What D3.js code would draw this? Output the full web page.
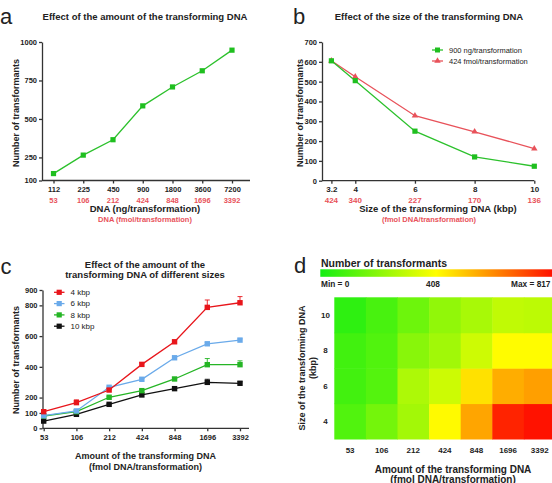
<!DOCTYPE html>
<html><head><meta charset="utf-8">
<script src="https://cdn.jsdelivr.net/npm/d3@7/dist/d3.min.js"></script>
<style>
html,body{margin:0;padding:0;background:#fff;overflow:hidden}
text{font-family:"Liberation Sans",Arial,sans-serif}
</style></head><body>
<svg id="c" width="552" height="483"></svg>
<script>
// ---------- data ----------
const ngAmounts = ["112","225","450","900","1800","3600","7200"];
const fmolAmounts = ["53","106","212","424","848","1696","3392"];
const transformantsA = [145,265,365,585,708,813,947];
const yTicksA = [100,250,500,750,1000];

const sizesKbp = [3.2,4,6,8,10];
const fmolBySize = ["424","340","227","170","136"];
const series900ng = [605,505,250,120,73];
const series424fmol = [605,525,328,247,162];
const legendB = ["900 ng/transformation","424 fmol/transformation"];

const sizeSeries = ["4 kbp","6 kbp","8 kbp","10 kbp"];
const kbp4 = [108,167,249,416,563,787,817];
const kbp6 = [82,113,267,319,459,550,574];
const kbp8 = [80,108,202,245,321,414,414];
const kbp10 = [47,91,156,217,258,299,293];
const err4 = [12,18,10,10,10,48,40];
const err6 = [6,6,6,6,8,8,8];
const err8 = [5,5,6,6,8,40,25];
const err10 = [5,5,5,5,6,20,10];
const yTicksC = [0,100,200,400,600,800,900];

const heatSizes = ["4","6","8","10"];
const heatMin = 0, heatMid = 408, heatMax = 817;

// ---------- helpers ----------
const svg = d3.select("#c");
const FS = '"Liberation Sans",Arial,sans-serif';
const AX = "#333";
function styleAxis(g, fs){
  g.selectAll("path,line").attr("stroke",AX).attr("stroke-width",1.3);
  g.selectAll("text").attr("font-weight","bold").attr("font-size",fs||7.5).attr("fill","#222").attr("font-family",FS);
}
function txt(x,y,s,o){
  o=o||{};
  return svg.append("text").attr("x",x).attr("y",y).text(s)
    .attr("font-size",o.fs||9).attr("font-weight",o.fw||"bold")
    .attr("fill",o.fill||"#222").attr("text-anchor",o.anchor||"middle")
    .attr("transform",o.rot?`rotate(-90,${x},${y})`:null);
}

// ---------- panel a ----------
{
  const x = d3.scalePoint().domain(ngAmounts).range([53.5,232]);
  const y = d3.scaleLinear().domain([100,1000]).range([180.5,42]);
  const g = svg.append("g");
  const ya = g.append("g").attr("transform","translate(42,0)").call(d3.axisLeft(y).tickValues(yTicksA).tickFormat(d3.format("d")).tickSize(3).tickSizeOuter(0).tickPadding(2));
  styleAxis(ya);
  const xa = g.append("g").attr("transform","translate(0,180.5)").call(d3.axisBottom(x).tickSize(3).tickPadding(3));
  xa.select(".domain").remove();
  styleAxis(xa);
  g.append("line").attr("x1",42).attr("x2",250).attr("y1",180.5).attr("y2",180.5).attr("stroke",AX).attr("stroke-width",1.3);
  g.selectAll(null).data(fmolAmounts).enter().append("text")
    .attr("x",(d,i)=>x(ngAmounts[i])).attr("y",202.5).text(d=>d)
    .attr("text-anchor","middle").attr("font-size",7.5).attr("font-weight","bold").attr("fill","#e8525a");
  const line = d3.line().x((d,i)=>x(ngAmounts[i])).y(d=>y(d));
  g.append("path").datum(transformantsA).attr("d",line).attr("fill","none").attr("stroke","#2cc12c").attr("stroke-width",1.3);
  g.selectAll(null).data(transformantsA).enter().append("rect")
    .attr("x",(d,i)=>x(ngAmounts[i])-2.6).attr("y",d=>y(d)-2.6).attr("width",5.2).attr("height",5.2).attr("fill","#1fbf1f");
  txt(145,19.5,"Effect of the amount of the transforming DNA",{fs:9.5});
  txt(0,24,"a",{fs:22,fw:"normal",anchor:"start"});
  txt(18.5,113,"Number of transformants",{fs:9,rot:true});
  txt(145,212,"DNA (ng/transformation)",{fs:9.5});
  txt(145,222,"DNA (fmol/transformation)",{fs:7.5,fill:"#e8525a"});
}

// ---------- panel b ----------
{
  const x = d3.scaleLinear().domain([3.2,10]).range([331.4,534.3]);
  const y = d3.scaleLinear().domain([0,700]).range([180.7,42]);
  const g = svg.append("g");
  const ya = g.append("g").attr("transform","translate(322,0)").call(d3.axisLeft(y).ticks(7).tickSize(3).tickSizeOuter(0).tickPadding(2));
  styleAxis(ya);
  const xa = g.append("g").attr("transform","translate(0,180.7)").call(d3.axisBottom(x).tickValues(sizesKbp).tickFormat(d=>d).tickSize(3).tickPadding(3));
  xa.select(".domain").remove();
  styleAxis(xa,8);
  g.append("line").attr("x1",322).attr("x2",534.3).attr("y1",180.7).attr("y2",180.7).attr("stroke",AX).attr("stroke-width",1.3);
  g.selectAll(null).data(fmolBySize).enter().append("text")
    .attr("x",(d,i)=>x(sizesKbp[i])).attr("y",202.5).text(d=>d)
    .attr("text-anchor","middle").attr("font-size",8).attr("font-weight","bold").attr("fill","#e8525a");
  const line = d3.line().x((d,i)=>x(sizesKbp[i])).y(d=>y(d));
  g.append("path").datum(series424fmol).attr("d",line).attr("fill","none").attr("stroke","#e8525a").attr("stroke-width",1.3);
  g.append("path").datum(series900ng).attr("d",line).attr("fill","none").attr("stroke","#2cc12c").attr("stroke-width",1.3);
  const tri = d3.symbol().type(d3.symbolTriangle).size(18);
  g.selectAll(null).data(series424fmol).enter().append("path").attr("d",tri)
    .attr("transform",(d,i)=>`translate(${x(sizesKbp[i])},${y(d)})`).attr("fill","#e8525a");
  g.selectAll(null).data(series900ng).enter().append("rect")
    .attr("x",(d,i)=>x(sizesKbp[i])-2.6).attr("y",d=>y(d)-2.6).attr("width",5.2).attr("height",5.2).attr("fill","#1fbf1f");
  // legend
  const lg = [["#2cc12c","sq"],["#e8525a","tri"]];
  legendB.forEach((s,i)=>{
    const ly = 50 + i*11;
    g.append("line").attr("x1",432).attr("x2",443).attr("y1",ly).attr("y2",ly).attr("stroke",lg[i][0]).attr("stroke-width",1.3);
    if(lg[i][1]==="sq") g.append("rect").attr("x",435).attr("y",ly-2.5).attr("width",5).attr("height",5).attr("fill","#1fbf1f");
    else g.append("path").attr("d",tri).attr("transform",`translate(437.5,${ly})`).attr("fill","#e8525a");
    g.append("text").attr("x",449).attr("y",ly+2.7).text(s).attr("font-size",7.5).attr("fill","#222");
  });
  txt(429,19.5,"Effect of the size of the transforming DNA",{fs:9.5});
  txt(293,24,"b",{fs:22,fw:"normal",anchor:"start"});
  txt(303,113,"Number of transformants",{fs:9,rot:true});
  txt(438,212,"Size of the transforming DNA (kbp)",{fs:9.5});
  txt(429,222,"(fmol DNA/transformation)",{fs:7.5,fill:"#e8525a"});
}

// ---------- panel c ----------
{
  const x = d3.scalePoint().domain(fmolAmounts).range([43.7,240]);
  const y = d3.scaleLinear().domain([0,900]).range([428.3,290]);
  const g = svg.append("g");
  const ya = g.append("g").attr("transform","translate(42.5,0)").call(d3.axisLeft(y).tickValues(yTicksC).tickSize(3).tickSizeOuter(0).tickPadding(2));
  styleAxis(ya);
  const xa = g.append("g").attr("transform","translate(0,428.3)").call(d3.axisBottom(x).tickSize(3).tickPadding(3));
  xa.select(".domain").remove();
  styleAxis(xa);
  g.append("line").attr("x1",42.5).attr("x2",249).attr("y1",428.3).attr("y2",428.3).attr("stroke",AX).attr("stroke-width",1.3);
  const series = [[kbp4,err4,"#e8151b"],[kbp6,err6,"#6aaaea"],[kbp8,err8,"#25b525"],[kbp10,err10,"#111111"]];
  const line = d3.line().x((d,i)=>x(fmolAmounts[i])).y(d=>y(d));
  series.slice().reverse().forEach(([vals,errs,col])=>{
    g.selectAll(null).data(vals).enter().append("path")
      .attr("d",(d,i)=>{const xx=x(fmolAmounts[i]);const t=y(d+errs[i]);return `M${xx},${y(d)}V${t}M${xx-2.5},${t}H${xx+2.5}`;})
      .attr("stroke",col).attr("stroke-width",0.9).attr("fill","none");
    g.append("path").datum(vals).attr("d",line).attr("fill","none").attr("stroke",col).attr("stroke-width",1.3);
    g.selectAll(null).data(vals).enter().append("rect")
      .attr("x",(d,i)=>x(fmolAmounts[i])-2.7).attr("y",d=>y(d)-2.7).attr("width",5.4).attr("height",5.4).attr("fill",col);
  });
  sizeSeries.forEach((s,i)=>{
    const ly = 292.3 + i*11.3;
    g.append("line").attr("x1",54).attr("x2",64.5).attr("y1",ly).attr("y2",ly).attr("stroke",series[i][2]).attr("stroke-width",1.3);
    g.append("rect").attr("x",56.6).attr("y",ly-2.6).attr("width",5.2).attr("height",5.2).attr("fill",series[i][2]);
    g.append("text").attr("x",70.5).attr("y",ly+2.8).text(s).attr("font-size",8).attr("fill","#222");
  });
  txt(145,267.5,"Effect of the amount of the",{fs:9.5});
  txt(145,278,"transforming DNA of different sizes",{fs:9.5});
  txt(0.5,274,"c",{fs:22,fw:"normal",anchor:"start"});
  txt(18.5,360,"Number of transformants",{fs:9,rot:true});
  txt(145.5,459,"Amount of the transforming DNA",{fs:9});
  txt(145.5,469.5,"(fmol DNA/transformation)",{fs:9});
}

// ---------- panel d ----------
{
  const color = d3.scaleLinear().domain([heatMin,heatMid,heatMax]).range(["#13ee13","#ffff00","#ff1200"]);
  const x = d3.scaleBand().domain(fmolAmounts).range([334.3,555.5]);
  const y = d3.scaleBand().domain(heatSizes.slice().reverse()).range([297.3,439]);
  const g = svg.append("g");
  const rows = [kbp4,kbp6,kbp8,kbp10];
  heatSizes.forEach((s,ri)=>{
    g.selectAll(null).data(rows[ri]).enter().append("rect")
      .attr("x",(d,i)=>x(fmolAmounts[i])).attr("y",y(s))
      .attr("width",x.bandwidth()+0.5).attr("height",y.bandwidth()+0.5)
      .attr("fill",d=>color(d));
  });
  // colour bar
  const defs = svg.append("defs");
  const grad = defs.append("linearGradient").attr("id","gb");
  [heatMin,heatMid,heatMax].forEach(v=>grad.append("stop").attr("offset",(v-heatMin)/(heatMax-heatMin)).attr("stop-color",color(v)));
  const cb = d3.scaleLinear().domain([heatMin,heatMax]).range([320.3,552]);
  g.append("rect").attr("x",cb(heatMin)).attr("y",269.3).attr("width",cb(heatMax)-cb(heatMin)).attr("height",7.5).attr("fill","url(#gb)");
  g.append("text").attr("x",321).attr("y",286.5).text("Min = "+heatMin).attr("font-size",8.3).attr("font-weight","bold").attr("fill","#222");
  g.append("text").attr("x",cb(heatMid)-3).attr("y",286.5).text(heatMid).attr("font-size",8.3).attr("font-weight","bold").attr("fill","#222").attr("text-anchor","middle");
  g.append("text").attr("x",550.5).attr("y",286.5).text("Max = "+heatMax).attr("font-size",8.3).attr("font-weight","bold").attr("fill","#222").attr("text-anchor","end");
  // axes labels
  g.selectAll(null).data(fmolAmounts).enter().append("text")
    .attr("x",d=>x(d)+x.bandwidth()/2).attr("y",453).text(d=>d)
    .attr("text-anchor","middle").attr("font-size",8).attr("font-weight","bold").attr("fill","#222");
  g.selectAll(null).data(heatSizes).enter().append("text")
    .attr("x",325.5).attr("y",d=>y(d)+y.bandwidth()/2+2.8).text(d=>d)
    .attr("text-anchor","middle").attr("font-size",8).attr("font-weight","bold").attr("fill","#222");
  txt(321,266.8,"Number of transformants",{fs:10.5,anchor:"start"});
  txt(294,273,"d",{fs:22,fw:"normal",anchor:"start"});
  txt(305,368,"Size of the transforming DNA",{fs:9,rot:true});
  txt(316,368,"(kbp)",{fs:9,rot:true});
  txt(453,472.5,"Amount of the transforming DNA",{fs:10});
  txt(453,482.5,"(fmol DNA/transformation)",{fs:10});
}
</script></body></html>
